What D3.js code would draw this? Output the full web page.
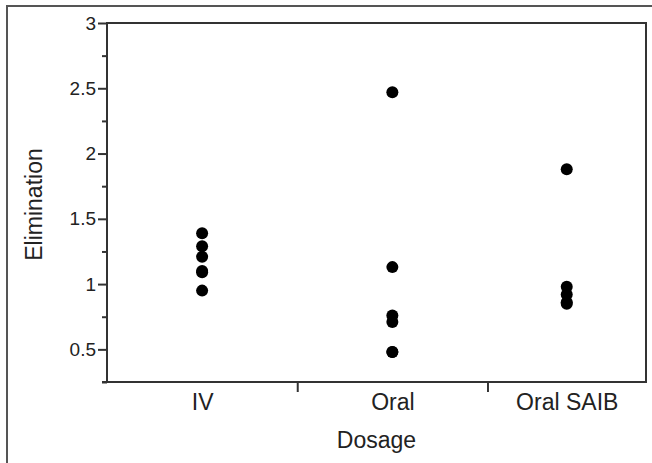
<!DOCTYPE html>
<html>
<head>
<meta charset="utf-8">
<script src="https://cdn.jsdelivr.net/npm/d3@7"></script>
<style>
  html, body { margin: 0; padding: 0; background: #fff; }
  svg { display: block; font-family: "Liberation Sans", Arial, sans-serif; }
</style>
</head>
<body>
<svg id="chart" width="652" height="463"></svg>
<script>
// Elimination by dosage group
const categories = ["IV", "Oral", "Oral SAIB"];
const ivValues = [1.39, 1.29, 1.21, 1.10, 1.09, 0.95];
const oralValues = [2.47, 1.13, 0.76, 0.71, 0.48, 0.48];
const oralSaibValues = [1.88, 0.98, 0.92, 0.86, 0.85];
const yTickValues = [0.5, 1, 1.5, 2, 2.5, 3];
const yMinorTicks = [0.25, 0.75, 1.25, 1.75, 2.25, 2.75];

const groups = [ivValues, oralValues, oralSaibValues];

const svg = d3.select("#chart");
const W = 652, H = 463;
const margin = { left: 107, right: 6, top: 23, bottom: 81 };
const inkColor = "#333";
const textColor = "#222";

// Outer panel frame (top and left edges)
svg.append("path")
  .attr("d", `M7,${H} V6 H${W}`)
  .attr("fill", "none")
  .attr("stroke", "#555")
  .attr("stroke-width", 2);

// Group widths are proportional to their number of observations
const counts = groups.map(g => g.length);
const cumulative = [0];
counts.forEach(c => cumulative.push(cumulative[cumulative.length - 1] + c));
const total = cumulative[cumulative.length - 1];

const x = d3.scaleLinear()
  .domain([0, total])
  .range([margin.left, W - margin.right]);

const y = d3.scaleLinear()
  .domain([0.25, 3])
  .range([H - margin.bottom, margin.top]);

const groupCenter = i => (cumulative[i] + cumulative[i + 1]) / 2;

// Plot frame
svg.append("rect")
  .attr("x", x(0))
  .attr("y", y(3))
  .attr("width", x(total) - x(0))
  .attr("height", y(0.25) - y(3))
  .attr("fill", "none")
  .attr("stroke", inkColor)
  .attr("stroke-width", 2);

// Y axis with major and minor ticks
const yAxis = d3.axisLeft(y)
  .tickValues(yTickValues)
  .tickFormat(d3.format("~g"))
  .tickSize(9)
  .tickPadding(2);
const gy = svg.append("g")
  .attr("transform", `translate(${x(0)},0)`)
  .call(yAxis);
gy.select(".domain").remove();
gy.selectAll(".tick line").attr("stroke", inkColor).attr("stroke-width", 2);
gy.selectAll(".tick text")
  .attr("fill", textColor)
  .style("font-size", "19px");

const gyMinor = svg.append("g")
  .attr("transform", `translate(${x(0)},0)`)
  .call(d3.axisLeft(y).tickValues(yMinorTicks).tickSize(5).tickFormat(""));
gyMinor.select(".domain").remove();
gyMinor.selectAll(".tick line").attr("stroke", inkColor).attr("stroke-width", 2);

// Bottom-left tick at the axis minimum
svg.append("line")
  .attr("x1", x(0) - 5).attr("x2", x(0))
  .attr("y1", y(0.25)).attr("y2", y(0.25))
  .attr("stroke", inkColor).attr("stroke-width", 2);

// X axis: separator ticks between groups, labels at group centres
const gxSep = svg.append("g")
  .attr("transform", `translate(0,${y(0.25)})`)
  .call(d3.axisBottom(x).tickValues(cumulative.slice(1, -1)).tickSize(10).tickFormat(""));
gxSep.select(".domain").remove();
gxSep.selectAll(".tick line").attr("stroke", inkColor).attr("stroke-width", 2);

const gxLab = svg.append("g")
  .attr("transform", `translate(0,${y(0.25)})`)
  .call(d3.axisBottom(x)
    .tickValues(categories.map((c, i) => groupCenter(i)))
    .tickFormat((d, i) => categories[i])
    .tickSize(0)
    .tickPadding(12));
gxLab.select(".domain").remove();
gxLab.selectAll(".tick text")
  .attr("fill", textColor)
  .style("font-size", "23px");

// Points
const points = groups.flatMap((vals, i) => vals.map(v => ({ cat: i, value: v })));
svg.append("g")
  .selectAll("circle")
  .data(points)
  .join("circle")
  .attr("cx", d => x(groupCenter(d.cat)))
  .attr("cy", d => y(d.value))
  .attr("r", 6)
  .attr("fill", "#000");

// Axis titles
svg.append("text")
  .attr("x", (x(0) + x(total)) / 2)
  .attr("y", 448)
  .attr("text-anchor", "middle")
  .attr("fill", textColor)
  .style("font-size", "23px")
  .text("Dosage");

svg.append("text")
  .attr("transform", `translate(42,${(y(3) + y(0.25)) / 2 + 2}) rotate(-90)`)
  .attr("text-anchor", "middle")
  .attr("fill", textColor)
  .style("font-size", "23px")
  .text("Elimination");
</script>
</body>
</html>
